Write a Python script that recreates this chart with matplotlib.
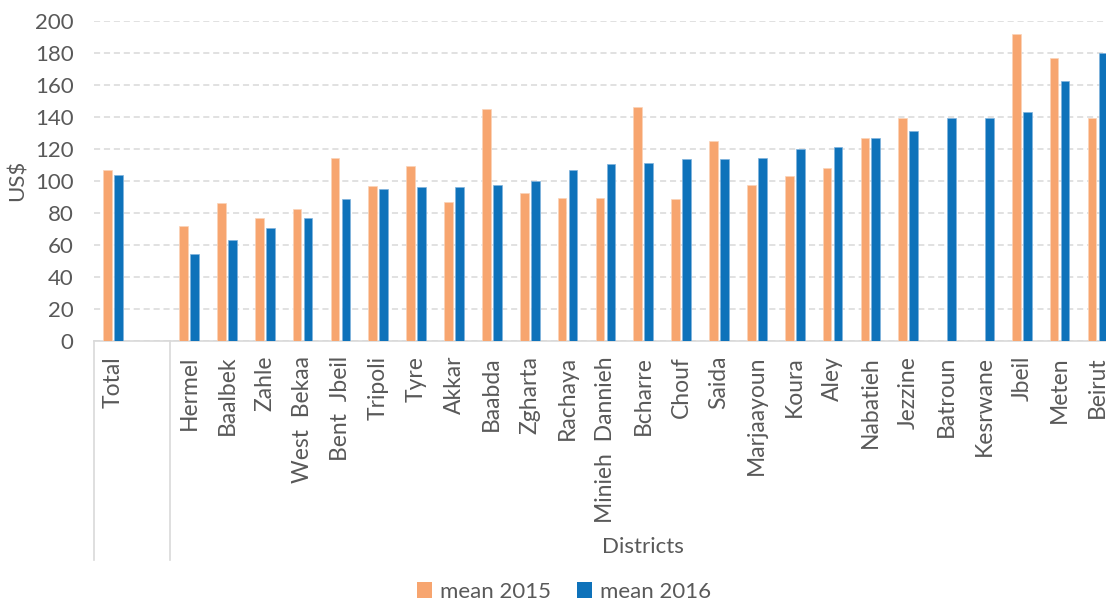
import numpy as np
import matplotlib
matplotlib.use("Agg")
import matplotlib.pyplot as plt
from matplotlib.patches import Patch
import matplotlib.transforms as mtransforms

total_label = "Total"
districts = ["Hermel", "Baalbek", "Zahle", "West  Bekaa", "Bent  Jbeil", "Tripoli", "Tyre",
             "Akkar", "Baabda", "Zgharta", "Rachaya", "Minieh  Dannieh", "Bcharre", "Chouf",
             "Saida", "Marjaayoun", "Koura", "Aley", "Nabatieh", "Jezzine", "Batroun",
             "Kesrwane", "Jbeil", "Meten", "Beirut"]
total_2015 = 107
total_2016 = 103.5
mean_2015 = [72, 86, 77, 82.5, 114, 97, 109, 87, 145, 92.5, 89, 89.5, 146, 88.5,
             125, 97.5, 103, 108, 127, 139, np.nan, np.nan, 192, 177, 139.5]
mean_2016 = [54.5, 63, 70.5, 77, 88.5, 95, 96, 96, 97.5, 100, 106.5, 110.5, 111, 113.5,
             113.5, 114.5, 120, 121, 127, 131, 139.5, 139.5, 143, 162.5, 180]
y_ticks = [0, 20, 40, 60, 80, 100, 120, 140, 160, 180, 200]

C15 = "#F7A56F"
C16 = "#0E72BA"
GRAY = "#595959"
FONT = ["Lato", "Open Sans", "DejaVu Sans"]
plt.rcParams["font.family"] = FONT
plt.rcParams["font.weight"] = "normal"

fig = plt.figure(figsize=(11.06, 6.05), dpi=100)
W, H = 1106, 605
left_px, right_px = 94.4, 1116.4
bot_px, top_px = 340.7, 20.7
ax = fig.add_axes([left_px / W, (H - bot_px) / H, (right_px - left_px) / W, (bot_px - top_px) / H])

labels = [total_label, ""] + districts
v15 = [total_2015, np.nan] + mean_2015
v16 = [total_2016, np.nan] + mean_2016
x = np.arange(len(labels))
bw = 0.23
off = 0.145
ax.bar(x - off, v15, width=bw, color=C15, edgecolor="#FBD3B8", linewidth=0.5, zorder=3)
ax.bar(x + off, v16, width=bw, color=C16, edgecolor="#7FB3DD", linewidth=0.5, zorder=3)

ax.set_xlim(-0.5, len(labels) - 0.5)
ax.set_ylim(0, 200)
ax.set_yticks(y_ticks)
ax.yaxis.grid(True, linestyle=(0, (4, 2.5)), color="#D9D9D9", linewidth=1.1, zorder=0)
ax.set_axisbelow(True)
for s in ["top", "right", "left"]:
    ax.spines[s].set_visible(False)
ax.spines["bottom"].set_color("#D9D9D9")
ax.spines["bottom"].set_linewidth(1.2)
ax.tick_params(axis="y", length=0, labelsize=16, labelcolor=GRAY, pad=15)
ax.tick_params(axis="x", length=0, labelsize=16.5, labelcolor=GRAY, pad=11)
ax.set_xticks(x)
ax.set_xticklabels(labels, rotation=90, va="top", ha="center")

ax.set_ylabel("US$", fontsize=16, color=GRAY, labelpad=5)

# category group separators
trans = mtransforms.blended_transform_factory(ax.transData, ax.transAxes)
ybot = (bot_px - 560) / (bot_px - top_px)
for xs in [-0.5, 1.5]:
    ax.plot([xs, xs], [0, ybot], transform=trans, color="#D9D9D9", linewidth=1.2, clip_on=False)
ax.text(14, (bot_px - 547) / (bot_px - top_px), "Districts", transform=trans, ha="center",
        va="center", fontsize=16, color=GRAY)

handles = [Patch(facecolor=C15, label="mean 2015"), Patch(facecolor=C16, label="mean 2016")]
leg = fig.legend(handles=handles, loc="center", bbox_to_anchor=(564 / W, (H - 592) / H), ncol=2,
                 frameon=False, fontsize=16, handlelength=0.7, handleheight=0.7,
                 handletextpad=0.35, columnspacing=1.15)
for t in leg.get_texts():
    t.set_color(GRAY)

fig.savefig("out.png", dpi=100)
